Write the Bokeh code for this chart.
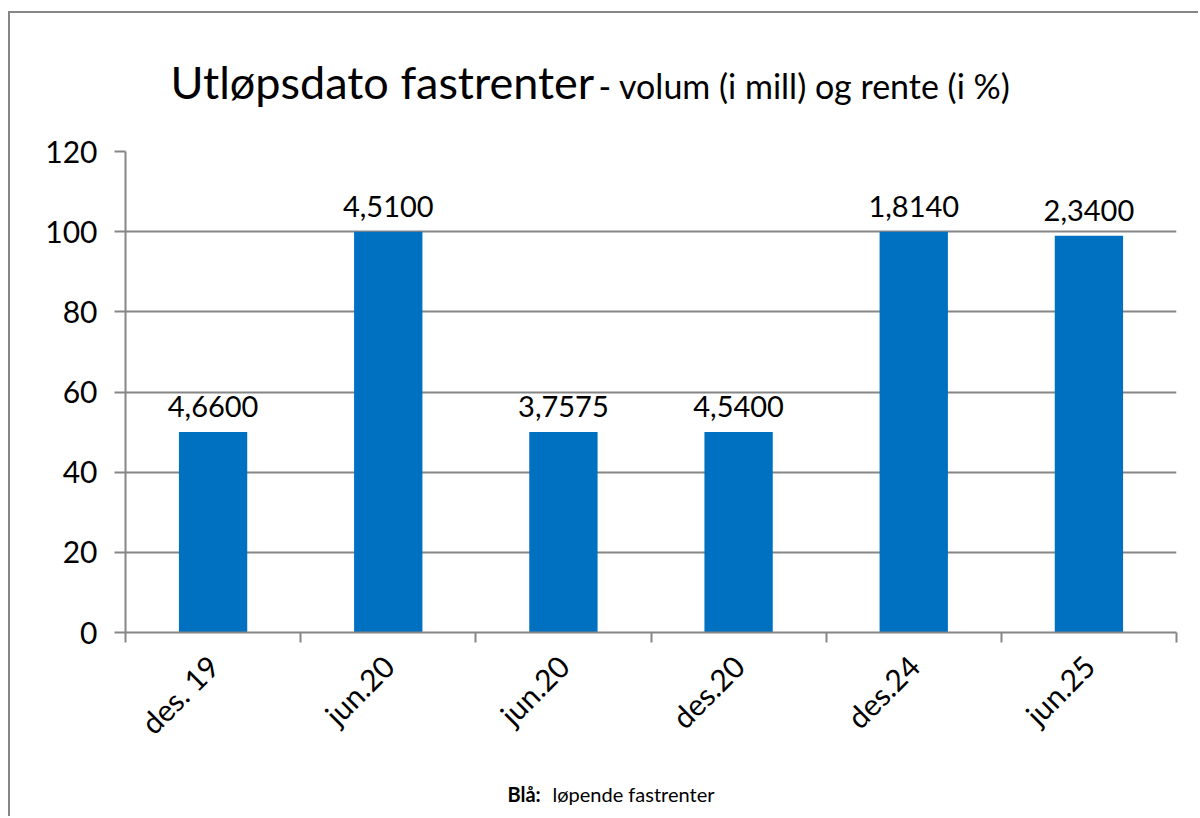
import math
from bokeh.plotting import figure
from bokeh.models import Range1d, FixedTicker, LabelSet, Label, ColumnDataSource, Spacer
from bokeh.layouts import row, column
from bokeh.core.properties import value
from bokeh.embed import file_html
from bokeh.resources import INLINE

# ---- data ----
categories = ["des. 19", "jun.20", "jun.20", "des.20", "des.24", "jun.25"]
volumes = [50, 100, 50, 50, 100, 99]
rates = ["4,6600", "4,5100", "3,7575", "4,5400", "1,8140", "2,3400"]
y_ticks = [0, 20, 40, 60, 80, 100, 120]

FONT = "Lato"
GRAY = "#868686"
BLUE = "#0070C0"

W, H = 1192, 810
BORDER_W, BORDER_H = 1198, 816   # extent of the chart-area border lines
X0 = 10            # page x where the content column starts
Y0 = 13            # page y where the content column starts
TOP_END = 121      # page y where the main chart starts
FOOT_START = 770   # page y where the footer starts
FL, FR = 125, 1176  # page x of the plot frame
CW = W - X0
MAIN_H = FOOT_START - TOP_END
SHIFT = 0.355      # measured baseline shift of Label text, in em


def band(y_top, y_bottom):
    f = figure(width=CW, height=y_bottom - y_top, output_backend="svg", title=None,
               toolbar_location=None, x_axis_location=None, y_axis_location=None,
               x_range=Range1d(FL, FR), y_range=Range1d(0, y_bottom - y_top),
               min_border_left=FL - X0, min_border_right=CW - (FR - X0),
               min_border_top=0, min_border_bottom=0)
    f.grid.visible = False
    f.outline_line_color = None
    f.background_fill_color = "white"
    f.border_fill_color = "white"
    return f


def band_text(fig, band_bottom, x, baseline, text, size, bold=False):
    fig.add_layout(Label(x=x, y=band_bottom - baseline + SHIFT * size, text=text,
                         text_font=FONT, text_font_size=f"{size}px",
                         text_font_style="bold" if bold else "normal",
                         text_baseline="alphabetic", text_align="left",
                         text_color="black"))


# ---- title band ----
top = band(Y0, TOP_END)
band_text(top, TOP_END, 170, 97, "Utløpsdato fastrenter", 45)
band_text(top, TOP_END, 598, 97, "- volum (i mill) og rente (i %)", 34)

# ---- main chart ----
positions = list(range(len(categories)))
src = ColumnDataSource(dict(x=positions, top=volumes, rate=rates))

p = figure(width=CW, height=MAIN_H, output_backend="svg", toolbar_location=None,
           x_range=Range1d(-0.5, len(categories) - 0.5), y_range=Range1d(0, 120),
           min_border_left=FL - X0, min_border_right=CW - (FR - X0),
           min_border_top=151 - TOP_END, min_border_bottom=FOOT_START - 632)
p.title.visible = False
p.outline_line_color = None
p.background_fill_color = "white"
p.border_fill_color = "white"

p.vbar(x="x", top="top", width=0.39, bottom=0, source=src, color=BLUE, line_color=None)

p.yaxis.ticker = FixedTicker(ticks=y_ticks)
p.yaxis.axis_line_color = GRAY
p.yaxis.axis_line_width = 2
p.yaxis.major_tick_line_color = GRAY
p.yaxis.major_tick_line_width = 2
p.yaxis.major_tick_out = 11
p.yaxis.major_tick_in = 0
p.yaxis.minor_tick_line_color = None
p.yaxis.major_label_text_font = FONT
p.yaxis.major_label_text_font_size = "30px"
p.yaxis.major_label_text_color = "black"
p.yaxis.major_label_standoff = 17

p.xaxis.ticker = FixedTicker(ticks=positions,
                             minor_ticks=[i - 0.5 for i in range(len(categories) + 1)])
p.xaxis.major_label_overrides = {i: c for i, c in enumerate(categories)}
p.xaxis.axis_line_color = GRAY
p.xaxis.axis_line_width = 2
p.xaxis.major_tick_line_color = None
p.xaxis.major_tick_out = 0
p.xaxis.major_tick_in = 0
p.xaxis.minor_tick_line_color = GRAY
p.xaxis.minor_tick_line_width = 2
p.xaxis.minor_tick_out = 10
p.xaxis.minor_tick_in = 0
p.xaxis.major_label_orientation = math.pi / 4
p.xaxis.major_label_text_font = FONT
p.xaxis.major_label_text_font_size = "30px"
p.xaxis.major_label_text_color = "black"
p.xaxis.major_label_standoff = 18

p.xgrid.grid_line_color = None
p.ygrid.ticker = FixedTicker(ticks=y_ticks[1:])
p.ygrid.grid_line_color = GRAY
p.ygrid.grid_line_width = 2

p.add_layout(LabelSet(x="x", y="top", text="rate", source=src, y_offset=15,
                      text_align="center", text_baseline="alphabetic",
                      text_font=value(FONT), text_font_size=value("29px"),
                      text_color="black"))

# ---- footer band ----
foot = band(FOOT_START, H)
band_text(foot, H, 507, 801, "Blå:", 20, bold=True)
band_text(foot, H, 552, 801, "løpende fastrenter", 20)

# ---- chart-area border (top and left edges) ----
gray_box = {"background-color": GRAY}
layout = column(
    Spacer(width=W, height=11),
    row(Spacer(width=8, height=2), Spacer(width=BORDER_W - 8, height=2, styles=gray_box)),
    row(Spacer(width=8, height=BORDER_H - Y0),
        Spacer(width=2, height=BORDER_H - Y0, styles=gray_box),
        column(top, p, foot)),
)
open("out.html", "w").write(file_html(layout, INLINE))
